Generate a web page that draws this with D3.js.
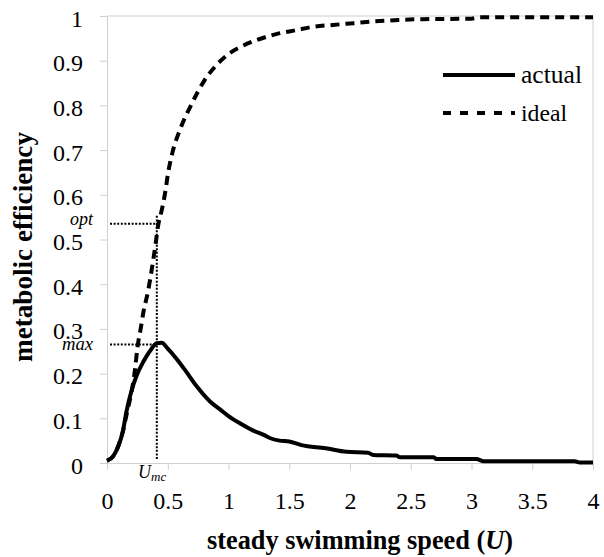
<!DOCTYPE html>
<html><head><meta charset="utf-8">
<script src="https://cdn.jsdelivr.net/npm/d3@7"></script>
<style>body{margin:0;background:#fff}svg{display:block}</style>
</head><body><svg id="c" width="604" height="557"></svg>
<script>
const xTicks = [0,0.5,1,1.5,2,2.5,3,3.5,4];
const yTicks = [0,0.1,0.2,0.3,0.4,0.5,0.6,0.7,0.8,0.9,1];
const actualU = [0,0.05,0.09,0.13,0.16,0.2,0.24,0.3,0.35,0.41,0.45,0.5,0.57,0.65,0.74,0.85,0.93,1.0,1.1,1.2,1.29,1.34,1.42,1.5,1.6,1.8,1.97,2.15,2.19,2.38,2.41,2.69,2.71,3.04,3.1,3.85,3.89,4.0];
const actualV = [0.005,0.015,0.036,0.07,0.115,0.16,0.193,0.227,0.249,0.268,0.269,0.256,0.234,0.205,0.171,0.137,0.12,0.105,0.088,0.073,0.063,0.056,0.05,0.048,0.04,0.033,0.025,0.023,0.018,0.017,0.013,0.013,0.009,0.009,0.004,0.004,0.001,0.001];
const idealU = [0,0.05,0.09,0.13,0.17,0.2,0.23,0.25,0.28,0.3,0.34,0.37,0.4,0.42,0.45,0.48,0.5,0.54,0.6,0.7,0.8,0.9,1.0,1.1,1.23,1.4,1.55,1.7,1.86,2.03,2.2,2.4,2.6,3.0,3.07,4.0];
const idealV = [0.005,0.015,0.036,0.07,0.12,0.156,0.208,0.257,0.305,0.338,0.387,0.436,0.49,0.53,0.565,0.607,0.644,0.696,0.745,0.805,0.855,0.89,0.915,0.931,0.946,0.96,0.968,0.976,0.98,0.984,0.988,0.991,0.993,0.994,0.997,0.997];
const Umc = 0.41, maxEff = 0.265, optEff = 0.535;
const seriesNames = ["actual","ideal"];

const FONT = "'Liberation Serif', 'Times New Roman', serif";
const svg = d3.select("#c");
const x = d3.scaleLinear().domain([0,4]).range([107,593]);
const y = d3.scaleLinear().domain([0,1]).range([463,16]);
const grey = "#d0d0d0";

function fit(sel, target){
  const n = sel.node(); const fs = parseFloat(sel.attr("font-size"));
  const w = n.getComputedTextLength();
  if (w > 0) sel.attr("font-size", (fs*target/w).toFixed(2));
}

// frame
svg.append("line").attr("x1",x(0)).attr("x2",x(4)).attr("y1",y(1)).attr("y2",y(1)).attr("stroke",grey);
svg.append("line").attr("x1",x(4)).attr("x2",x(4)).attr("y1",y(1)).attr("y2",y(0)).attr("stroke",grey);

const xa = svg.append("g").attr("transform",`translate(0,${y(0)})`)
  .call(d3.axisBottom(x).tickValues(xTicks).tickSize(7).tickPadding(22).tickFormat(d3.format("")));
const ya = svg.append("g").attr("transform",`translate(${x(0)},0)`)
  .call(d3.axisLeft(y).tickValues(yTicks).tickSize(7).tickPadding(17).tickFormat(d3.format("")));
[xa,ya].forEach(a=>{
  a.attr("font-family",null).attr("font-size",null);
  a.select(".domain").attr("stroke",grey);
  a.selectAll(".tick line").attr("stroke",grey);
  a.selectAll(".tick text").attr("font-size",24).attr("fill","#000").style("font-family",FONT);
});
ya.selectAll(".tick text").attr("dy","0.42em");

const mk = (U,V)=>d3.line().x((d,i)=>x(U[i])).y((d,i)=>y(V[i])).curve(d3.curveMonotoneX)(U);

// dotted guides
const dot = "2,1.6";
svg.append("line").attr("x1",x(0)+3).attr("x2",x(Umc)).attr("y1",y(optEff)).attr("y2",y(optEff)).attr("stroke","#000").attr("stroke-width",2).attr("stroke-dasharray",dot);
svg.append("line").attr("x1",x(0)+3).attr("x2",x(Umc)).attr("y1",y(maxEff)).attr("y2",y(maxEff)).attr("stroke","#000").attr("stroke-width",2).attr("stroke-dasharray",dot);
svg.append("line").attr("x1",x(Umc)).attr("x2",x(Umc)).attr("y1",y(optEff)-8).attr("y2",y(0)-3).attr("stroke","#000").attr("stroke-width",2).attr("stroke-dasharray",dot);

svg.append("path").attr("d",mk(idealU,idealV)).attr("fill","none").attr("stroke","#000").attr("stroke-width",4).attr("stroke-dasharray","9,6");
svg.append("path").attr("d",mk(actualU,actualV)).attr("fill","none").attr("stroke","#000").attr("stroke-width",4).attr("stroke-linejoin","round");

// annotations
const tOpt = svg.append("text").attr("x",93).attr("y",y(optEff)+1).attr("text-anchor","end").attr("font-style","italic").attr("font-size",16).style("font-family",FONT).text("opt");
fit(tOpt,23);
const tMax = svg.append("text").attr("x",93).attr("y",y(maxEff)+5).attr("text-anchor","end").attr("font-style","italic").attr("font-size",16).style("font-family",FONT).text("max");
fit(tMax,31);
const ut = svg.append("text").attr("x",138).attr("y",478).attr("font-style","italic").attr("font-size",18).style("font-family",FONT);
ut.append("tspan").text("U");
ut.append("tspan").attr("dy",3).attr("font-size",13).text("mc");

// legend
const lg = svg.append("g");
const lgW = [61,46];
seriesNames.forEach((n,i)=>{
  const yy = 75 + i*38;
  lg.append("line").attr("x1",443).attr("x2",515).attr("y1",yy).attr("y2",yy).attr("stroke","#000").attr("stroke-width",4)
    .attr("stroke-dasharray", i===1 ? "8,9" : null);
  const t = lg.append("text").attr("x",521).attr("y",yy+8).attr("font-size",22).style("font-family",FONT).text(n);
  fit(t, lgW[i]);
});

// axis titles
const xt = svg.append("text").attr("x",360).attr("y",549).attr("text-anchor","middle").attr("font-weight","bold").attr("font-size",23).style("font-family",FONT);
xt.append("tspan").text("steady swimming speed (");
xt.append("tspan").attr("font-style","italic").text("U");
xt.append("tspan").text(")");
fit(xt,306);
const yt = svg.append("text").attr("transform","translate(32,247) rotate(-90)").attr("text-anchor","middle").attr("font-weight","bold").attr("font-size",23).style("font-family",FONT).text("metabolic efficiency");
fit(yt,230);
</script></body></html>
